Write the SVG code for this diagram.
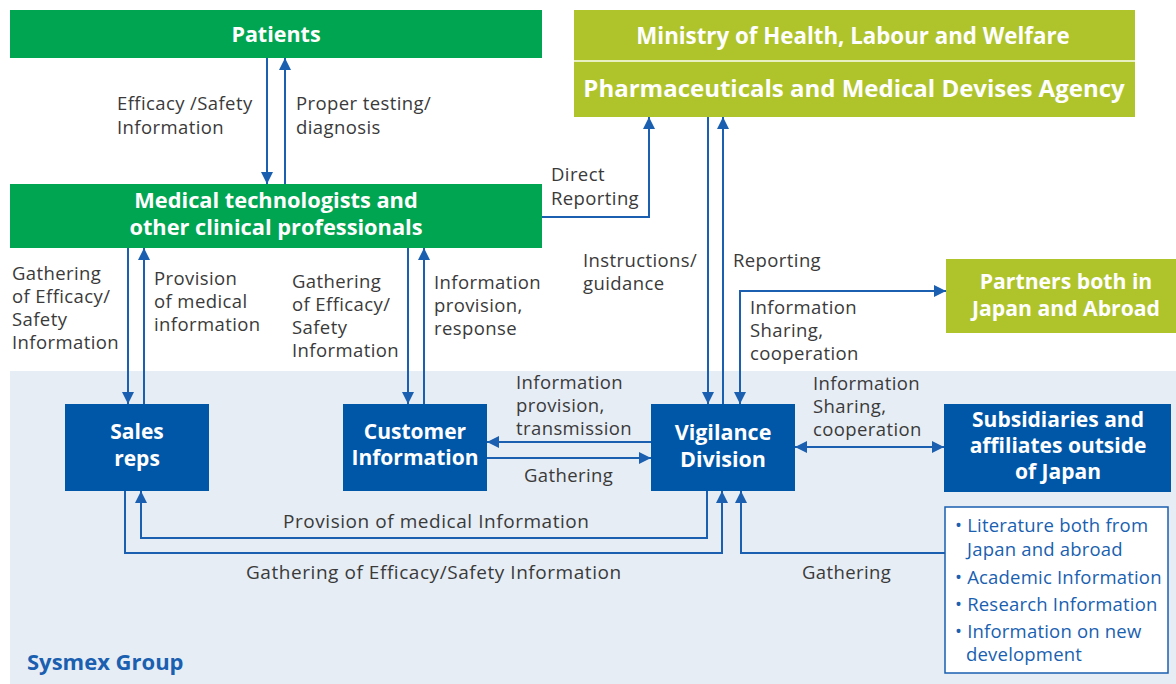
<svg xmlns="http://www.w3.org/2000/svg" width="1176" height="684" viewBox="0 0 1176 684">
<style>
.lbl{font-family:"Open Sans","Liberation Sans",sans-serif;font-size:18.5px;letter-spacing:0.4px;fill:#3a3a3a;}
.big{font-size:19px;letter-spacing:0.55px;}
.ttl{font-family:"Open Sans","Liberation Sans",sans-serif;font-weight:bold;fill:#fff;text-anchor:middle;font-size:21.5px;}
.lst{font-family:"Open Sans","Liberation Sans",sans-serif;font-size:18.5px;letter-spacing:0.2px;fill:#1a5fb0;}
.ln{fill:none;stroke:#1a5fb0;stroke-width:2;}
</style>
<defs>
<marker id="ah" viewBox="0 0 12 12" refX="12" refY="6" markerWidth="12" markerHeight="12" markerUnits="userSpaceOnUse" orient="auto-start-reverse">
<path d="M0,0 L12,6 L0,12 z" fill="#1a5fb0"/>
</marker>
</defs>
<rect x="0" y="0" width="1176" height="684" fill="#fff"/>
<rect id="sysmex-bg" x="10" y="371" width="1166" height="313" fill="#e6edf5"/>
<text x="27" y="670" style="font-family:'Open Sans','Liberation Sans',sans-serif;font-weight:bold;font-size:22px;fill:#1a5fb0">Sysmex Group</text>

<g id="patients"><rect x="10" y="10" width="532" height="48" fill="#00a551"/><text class="ttl" x="276" y="42">Patients</text></g>
<g id="medical"><rect x="10" y="184" width="532" height="64" fill="#00a551"/><text class="ttl" style="font-size:21.8px"><tspan x="276" y="208">Medical technologists and</tspan><tspan x="276" y="235">other clinical professionals</tspan></text></g>
<g id="ministry"><rect x="574" y="10" width="561" height="107" fill="#afc42b"/><line x1="574" y1="61" x2="1135" y2="61" stroke="#e8efc0" stroke-width="2"/><text class="ttl" x="853" y="44" style="font-size:22.3px">Ministry of Health, Labour and Welfare</text><text class="ttl" x="854" y="97" style="font-size:24px">Pharmaceuticals and Medical Devises Agency</text></g>
<g id="partners"><rect x="946" y="259" width="232" height="74" fill="#afc42b"/><text class="ttl" style="font-size:21.2px"><tspan x="1066" y="289">Partners both in</tspan><tspan x="1066" y="316">Japan and Abroad</tspan></text></g>
<g id="sales"><rect x="65" y="404" width="144" height="87" fill="#0057a8"/><text class="ttl" style="font-size:21px"><tspan x="137" y="439">Sales</tspan><tspan x="137" y="466">reps</tspan></text></g>
<g id="customer"><rect x="343" y="404" width="144" height="87" fill="#0057a8"/><text class="ttl" style="font-size:21px"><tspan x="415" y="439">Customer</tspan><tspan x="415" y="465">Information</tspan></text></g>
<g id="vigilance"><rect x="651" y="404" width="144" height="87" fill="#0057a8"/><text class="ttl"><tspan x="723" y="440">Vigilance</tspan><tspan x="723" y="467">Division</tspan></text></g>
<g id="subsidiaries"><rect x="944" y="404" width="227" height="88" fill="#0057a8"/><text class="ttl" style="font-size:21px"><tspan x="1058" y="427">Subsidiaries and</tspan><tspan x="1058" y="453">affiliates outside</tspan><tspan x="1058" y="479">of Japan</tspan></text></g>
<g id="sources"><rect x="945" y="507" width="223" height="166" fill="#fff" stroke="#1a5fb0" stroke-width="1.5"/>
<text class="lst"><tspan x="955" y="532">• Literature both from</tspan><tspan x="967" y="556">Japan and abroad</tspan><tspan x="955" y="584">• Academic Information</tspan><tspan x="955" y="611">• Research Information</tspan><tspan x="955" y="638">• Information on new</tspan><tspan x="966" y="661">development</tspan></text></g>

<g id="connectors">
<line class="ln" x1="267" y1="58" x2="267" y2="184" marker-end="url(#ah)"/>
<line class="ln" x1="285" y1="184" x2="285" y2="58" marker-end="url(#ah)"/>
<polyline class="ln" points="542,217 649,217 649,117" marker-end="url(#ah)"/>
<line class="ln" x1="708" y1="117" x2="708" y2="404" marker-end="url(#ah)"/>
<line class="ln" x1="723" y1="404" x2="723" y2="117" marker-end="url(#ah)"/>
<polyline class="ln" points="740,404 740,291 946,291" marker-start="url(#ah)" marker-end="url(#ah)"/>
<line class="ln" x1="128" y1="248" x2="128" y2="404" marker-end="url(#ah)"/>
<line class="ln" x1="144" y1="404" x2="144" y2="248" marker-end="url(#ah)"/>
<line class="ln" x1="408" y1="248" x2="408" y2="404" marker-end="url(#ah)"/>
<line class="ln" x1="424" y1="404" x2="424" y2="248" marker-end="url(#ah)"/>
<line class="ln" x1="651" y1="442" x2="487" y2="442" marker-end="url(#ah)"/>
<line class="ln" x1="487" y1="458" x2="651" y2="458" marker-end="url(#ah)"/>
<line class="ln" x1="795" y1="447" x2="944" y2="447" marker-start="url(#ah)" marker-end="url(#ah)"/>
<polyline class="ln" points="707,491 707,538 141,538 141,491" marker-end="url(#ah)"/>
<polyline class="ln" points="125,491 125,553 722,553 722,491" marker-end="url(#ah)"/>
<polyline class="ln" points="945,553 741,553 741,491" marker-end="url(#ah)"/>
</g>

<g id="labels">
<text class="lbl"><tspan x="117" y="110">Efficacy /Safety</tspan><tspan x="117" y="134">Information</tspan></text>
<text class="lbl"><tspan x="296" y="110">Proper testing/</tspan><tspan x="296" y="134">diagnosis</tspan></text>
<text class="lbl"><tspan x="551" y="181">Direct</tspan><tspan x="551" y="205">Reporting</tspan></text>
<text class="lbl"><tspan x="583" y="267">Instructions/</tspan><tspan x="583" y="290">guidance</tspan></text>
<text class="lbl" x="733" y="267">Reporting</text>
<text class="lbl"><tspan x="750" y="314">Information</tspan><tspan x="750" y="337">Sharing,</tspan><tspan x="750" y="360">cooperation</tspan></text>
<text class="lbl"><tspan x="12" y="280">Gathering</tspan><tspan x="12" y="303">of Efficacy/</tspan><tspan x="12" y="326">Safety</tspan><tspan x="12" y="349">Information</tspan></text>
<text class="lbl"><tspan x="154" y="285">Provision</tspan><tspan x="154" y="308">of medical</tspan><tspan x="154" y="331">information</tspan></text>
<text class="lbl"><tspan x="292" y="288">Gathering</tspan><tspan x="292" y="311">of Efficacy/</tspan><tspan x="292" y="334">Safety</tspan><tspan x="292" y="357">Information</tspan></text>
<text class="lbl"><tspan x="434" y="289">Information</tspan><tspan x="434" y="312">provision,</tspan><tspan x="434" y="335">response</tspan></text>
<text class="lbl"><tspan x="516" y="389">Information</tspan><tspan x="516" y="412">provision,</tspan><tspan x="516" y="435">transmission</tspan></text>
<text class="lbl" x="524" y="482">Gathering</text>
<text class="lbl"><tspan x="813" y="390">Information</tspan><tspan x="813" y="413">Sharing,</tspan><tspan x="813" y="436">cooperation</tspan></text>
<text class="lbl big" x="283" y="528">Provision of medical Information</text>
<text class="lbl big" x="246" y="579">Gathering of Efficacy/Safety Information</text>
<text class="lbl" x="802" y="579">Gathering</text>
</g>
</svg>
